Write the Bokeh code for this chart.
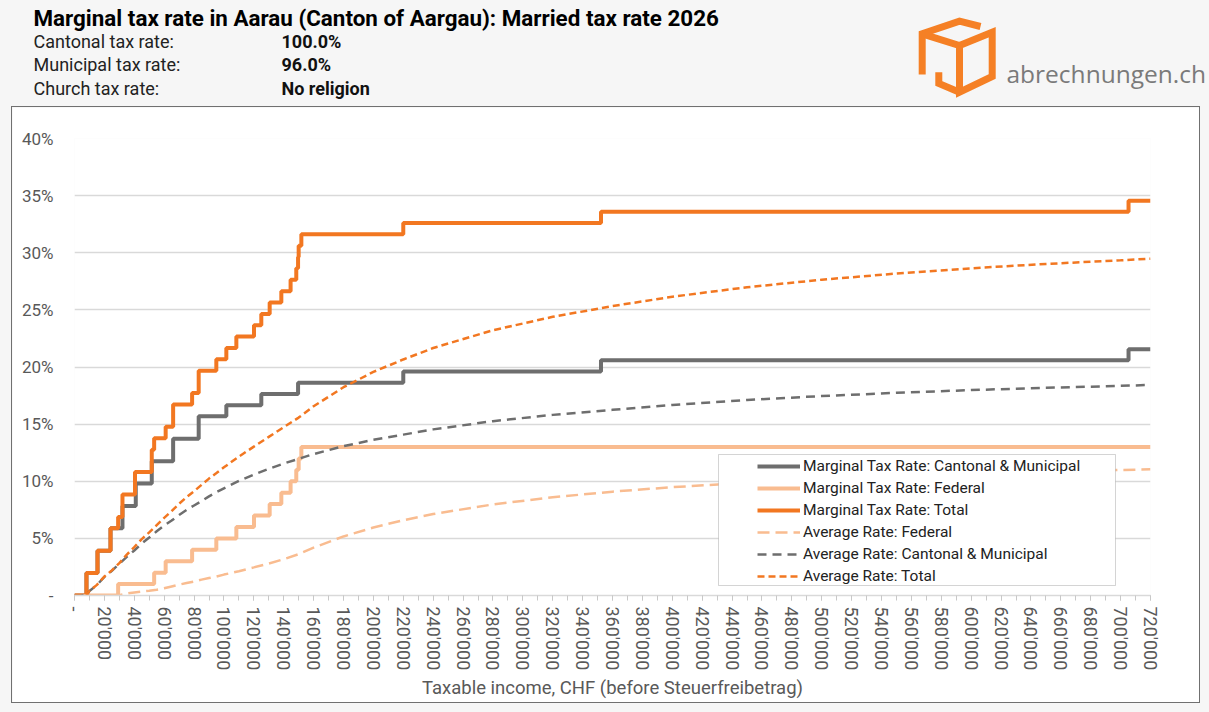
from bokeh.plotting import figure
from bokeh.layouts import column
from bokeh.models import (Range1d, FixedTicker, Label, BoxAnnotation, Legend, LegendItem)
from bokeh.embed import file_html
from bokeh.resources import INLINE

# ---------------- data ----------------
# marginal rates: income (CHF) from which the rate (%) applies
cm_income = [0, 8000, 15400, 24100, 32100, 41000, 51700, 66000, 83100, 101600, 125000,
             149600, 220000, 352300, 705300, 720000]
cm_rate = [0, 1.96, 3.92, 5.88, 7.84, 9.80, 11.76, 13.72, 15.68, 16.66, 17.64,
           18.62, 19.60, 20.58, 21.56, 21.56]

fed_income = [0, 29200, 53300, 61000, 78700, 94900, 108300, 120100, 130600, 138400,
              144600, 148400, 150000, 151800, 720000]
fed_rate = [0, 1, 2, 3, 4, 5, 6, 7, 8, 9, 10, 11, 12, 13, 13]

tot_income = [0, 8000, 15400, 24100, 29200, 32100, 40500, 51700, 53300, 61000, 66000,
              78700, 83100, 94900, 101600, 108300, 120100, 125000, 130600, 138400,
              144600, 148400, 149600, 150000, 151800, 220000, 352300, 705300, 720000]
tot_rate = [0, 1.96, 3.92, 5.88, 6.88, 8.84, 10.80, 12.76, 13.76, 14.76, 16.72,
            17.72, 19.68, 20.68, 21.66, 22.66, 23.66, 24.64, 25.64, 26.64,
            27.64, 28.64, 29.62, 30.62, 31.62, 32.60, 33.58, 34.56, 34.56]

# average rates (%)
avg_income = [0, 8000, 10000, 15000, 20000, 25000, 30000, 35000, 40000, 45000, 50000,
              55000, 60000, 65000, 70000, 75000, 80000, 85000, 90000, 95000, 100000,
              110000, 120000, 130000, 140000, 150000, 160000, 180000, 200000, 220000,
              240000, 280000, 320000, 360000, 400000, 450000, 500000, 550000, 600000,
              650000, 700000, 720000]
avg_fed = [0, 0, 0, 0, 0, 0, 0.03, 0.17, 0.27, 0.35, 0.42,
           0.50, 0.63, 0.79, 0.95, 1.09, 1.22, 1.39, 1.53, 1.66, 1.83,
           2.13, 2.46, 2.80, 3.18, 3.62, 4.19, 5.17, 5.95, 6.59,
           7.13, 7.97, 8.60, 9.09, 9.48, 9.87, 10.18, 10.44, 10.65,
           10.83, 10.99, 11.04]
avg_cm = [0, 0, 0.39, 0.91, 1.63, 2.16, 2.78, 3.38, 3.94, 4.55, 5.07,
          5.62, 6.13, 6.56, 7.05, 7.49, 7.88, 8.27, 8.68, 9.05, 9.38,
          10.03, 10.58, 11.09, 11.55, 11.96, 12.38, 13.07, 13.63, 14.08,
          14.54, 15.26, 15.81, 16.25, 16.68, 17.11, 17.46, 17.74, 17.98,
          18.18, 18.35, 18.43]
avg_tot = [0, 0, 0.40, 0.93, 1.66, 2.20, 2.84, 3.58, 4.23, 4.94, 5.52,
           6.16, 6.79, 7.39, 8.03, 8.61, 9.13, 9.68, 10.23, 10.72, 11.22,
           12.16, 13.03, 13.88, 14.73, 15.57, 16.56, 18.23, 19.57, 20.66,
           21.66, 23.22, 24.39, 25.33, 26.15, 26.98, 27.64, 28.18, 28.64,
           29.02, 29.34, 29.48]

y_ticks = [0, 5, 10, 15, 20, 25, 30, 35, 40]
y_labels = ["-", "5%", "10%", "15%", "20%", "25%", "30%", "35%", "40%"]
x_ticks = list(range(0, 720001, 20000))
x_labels = ["-"] + [f"{v:,}".replace(",", "'") for v in x_ticks[1:]]
x_minor = list(range(0, 720001, 10000))

series_names = ["Marginal Tax Rate: Cantonal & Municipal", "Marginal Tax Rate: Federal",
                "Marginal Tax Rate: Total", "Average Rate: Federal",
                "Average Rate: Cantonal & Municipal", "Average Rate: Total"]

title_text = "Marginal tax rate in Aarau (Canton of Aargau): Married tax rate 2026"
info_labels = ["Cantonal tax rate:", "Municipal tax rate:", "Church tax rate:"]
info_values = ["100.0%", "96.0%", "No religion"]

# ---------------- style ----------------
FONT = "Roboto"
ORANGE = "#F27721"
GRAY = "#6E6E6E"
LIGHT = "#F9BC90"
PAGE = "#F6F6F6"

# ---------------- header ----------------
hdr = figure(width=1209, height=107, output_backend="svg", toolbar_location=None,
             x_range=Range1d(0, 1209), y_range=Range1d(107, 0), min_border=0,
             x_axis_location=None, y_axis_location=None, frame_align=False,
             background_fill_color=PAGE, border_fill_color=PAGE, outline_line_color=None)
hdr.grid.visible = False
hdr.add_layout(Label(x=33, y=17, text=title_text, text_font=FONT, text_font_size="22.4px",
                     text_font_style="bold", text_color="black", text_baseline="middle"))
for yy, lab, val in zip([41, 64, 88], info_labels, info_values):
    hdr.add_layout(Label(x=33, y=yy, text=lab, text_font=FONT, text_font_size="18px",
                         text_color="#222222", text_baseline="middle"))
    hdr.add_layout(Label(x=281, y=yy, text=val, text_font=FONT, text_font_size="18px",
                         text_font_style="bold", text_color="#111111",
                         text_baseline="middle"))
# logo (open cube outline)
logo_paths = [
    [(980, 26), (959, 20.7), (921.7, 33.3), (921.7, 74)],
    [(921.7, 33.3), (959, 45), (991.7, 31.7), (991.7, 76), (959, 91.7), (959, 45)],
    [(938.3, 71.7), (938.3, 83), (959, 91.7)],
]
for path in logo_paths:
    hdr.line([a for a, b in path], [b for a, b in path], line_color="#F58025",
             line_width=7, line_join="miter", line_cap="butt")
hdr.add_layout(Label(x=1006, y=73, text="abrechnungen.ch", text_font="Open Sans",
                     text_font_size="24.5px", text_color="#7A7A7A",
                     text_baseline="alphabetic"))

# ---------------- main chart ----------------
p = figure(width=1187, height=595, output_backend="svg", toolbar_location=None,
           x_range=Range1d(0, 720000), y_range=Range1d(0, 40),
           min_border_left=62, min_border_right=49, min_border_top=31,
           min_border_bottom=106, border_fill_color="white", frame_align=False,
           background_fill_color="white", outline_line_color=None,
           margin=(0, 10, 10, 12), styles={"outline": "1px solid #707070"})

p.xgrid.visible = False
p.ygrid.grid_line_color = "#D9D9D9"
p.ygrid.grid_line_width = 1.5

p.yaxis.ticker = FixedTicker(ticks=y_ticks)
p.yaxis.major_label_overrides = dict(zip(y_ticks, y_labels))
p.yaxis.axis_line_color = None
p.yaxis.major_tick_line_color = None
p.yaxis.minor_tick_line_color = None
p.yaxis.major_label_standoff = 15
p.yaxis.major_label_text_font = FONT
p.yaxis.major_label_text_font_size = "17px"
p.yaxis.major_label_text_color = "#595959"

p.xaxis.ticker = FixedTicker(ticks=x_ticks, minor_ticks=x_minor)
p.xaxis.major_label_overrides = dict(zip(x_ticks, x_labels))
p.xaxis.major_label_orientation = "vertical"
p.xaxis.axis_line_color = "#D9D9D9"
p.xaxis.axis_line_width = 1.5
p.xaxis.major_tick_line_color = "#C8C8C8"
p.xaxis.minor_tick_line_color = "#C8C8C8"
p.xaxis.major_tick_in = 0
p.xaxis.major_tick_out = 5
p.xaxis.minor_tick_in = 0
p.xaxis.minor_tick_out = 5
p.xaxis.major_label_standoff = 6
p.xaxis.major_label_text_font = FONT
p.xaxis.major_label_text_font_size = "18px"
p.xaxis.major_label_text_color = "#595959"
p.xaxis.axis_label = "Taxable income, CHF (before Steuerfreibetrag)"
p.xaxis.axis_label_text_font = FONT
p.xaxis.axis_label_text_font_size = "18.5px"
p.xaxis.axis_label_text_font_style = "normal"
p.xaxis.axis_label_text_color = "#595959"
p.xaxis.axis_label_standoff = 4

r_cm = p.step(cm_income, cm_rate, mode="after", line_color=GRAY, line_width=4)
r_fed = p.step(fed_income, fed_rate, mode="after", line_color=LIGHT, line_width=4)
r_tot = p.step(tot_income, tot_rate, mode="after", line_color=ORANGE, line_width=4)
r_afed = p.line(avg_income, avg_fed, line_color=LIGHT, line_width=2.5, line_dash="12 6")
r_acm = p.line(avg_income, avg_cm, line_color=GRAY, line_width=2.5, line_dash="9 6")
r_atot = p.line(avg_income, avg_tot, line_color=ORANGE, line_width=2.5, line_dash="7 4")

# legend box (frame-relative screen units) + legend
FL, FB = 74, 596
p.add_layout(BoxAnnotation(left=718 - FL, right=1115 - FL, top=FB - 455, bottom=FB - 586,
                           left_units="screen", right_units="screen",
                           top_units="screen", bottom_units="screen",
                           fill_color="white", fill_alpha=1.0, line_color="#707070",
                           line_width=1, level="annotation"))
legend = Legend(items=[LegendItem(label=n, renderers=[r]) for n, r in
                       zip(series_names, [r_cm, r_fed, r_tot, r_afed, r_acm, r_atot])],
                location=(757 - FL, FB - 586.5), padding=0, spacing=2, margin=0,
                glyph_width=43, glyph_height=20, label_height=20, label_standoff=3,
                label_text_font=FONT, label_text_font_size="15.5px",
                label_text_color="#222222", background_fill_alpha=0,
                border_line_alpha=0)
p.add_layout(legend, "center")

layout = column(hdr, p, styles={"background-color": PAGE}, spacing=0)

open("out.html", "w").write(file_html(layout, INLINE))
